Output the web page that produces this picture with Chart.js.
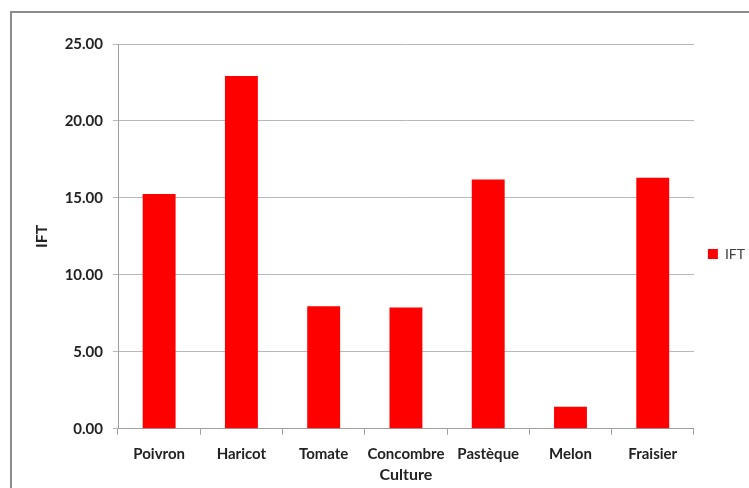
<!DOCTYPE html>
<html>
<head>
<meta charset="utf-8">
<script src="https://cdn.jsdelivr.net/npm/chart.js@4"></script>
<style>
  html, body { margin: 0; padding: 0; background: #fff; }
  #wrap { position: relative; width: 749px; height: 488px; overflow: hidden; }
  #frame { position: absolute; left: 10px; top: 11px; width: 800px; height: 600px; border: 2px solid #8c8c8c; }
  canvas { position: absolute; left: 0; top: 0; }
</style>
</head>
<body>
<div id="wrap">
  <div id="frame"></div>
  <canvas id="iftChart" width="749" height="488"></canvas>
</div>
<script>
const cultures = ['Poivron', 'Haricot', 'Tomate', 'Concombre', 'Pastèque', 'Melon', 'Fraisier'];
const iftValues = [15.25, 22.92, 7.97, 7.88, 16.20, 1.44, 16.31]; // IFT par culture

const fontFamily = 'Lato, "Open Sans", sans-serif';
const tickFont = { family: fontFamily, size: 15, weight: 'bold' };
const titleFont = { family: fontFamily, size: 16, weight: 'bold' };

// nudge the legend to where Excel puts it
const legendShift = {
    id: 'legendShift',
    afterLayout(chart) {
        const lg = chart.legend;
        lg.left += 8; lg.right += 8;
        lg.top -= 10; lg.bottom -= 10;
    }
};

const ctx = document.getElementById('iftChart').getContext('2d');
const iftChart = new Chart(ctx, {
    type: 'bar',
    data: {
        labels: cultures,
        datasets: [{
            label: 'IFT',
            data: iftValues,
            backgroundColor: '#ff0000',
            borderWidth: 0,
            categoryPercentage: 1,
            barPercentage: 0.4,
        }]
    },
    options: {
        responsive: false,
        animation: false,
        layout: { padding: { left: 28, top: 44, right: 2, bottom: 4 } },
        plugins: {
            tooltip: { enabled: false },
            legend: {
                position: 'right',
                labels: {
                    boxWidth: 10,
                    boxHeight: 10,
                    padding: 6,
                    color: '#404040',
                    font: { family: fontFamily, size: 14 },
                }
            }
        },
        scales: {
            x: {
                grid: { display: true, drawOnChartArea: false, drawTicks: true, tickLength: 6, color: '#a0a0a0' },
                border: { color: '#a0a0a0', width: 1 },
                ticks: { color: '#222', font: tickFont, padding: 10, maxRotation: 0, minRotation: 0, autoSkip: false },
                title: { display: true, text: 'Culture', color: '#222', font: titleFont, padding: { top: -8, bottom: 0 } }
            },
            y: {
                min: 0,
                max: 25,
                afterFit: (scale) => { scale.width = 90; },
                grid: { color: '#b8b8b8', tickLength: 5 },
                border: { color: '#a0a0a0', width: 1 },
                ticks: {
                    stepSize: 5,
                    color: '#222',
                    font: tickFont,
                    padding: 10,
                    callback: (v) => v.toFixed(2)
                },
                title: { display: true, text: 'IFT', color: '#222', font: titleFont, padding: { top: 4, bottom: 0 } }
            }
        }
    },
    plugins: [legendShift]
});
</script>
</body>
</html>
